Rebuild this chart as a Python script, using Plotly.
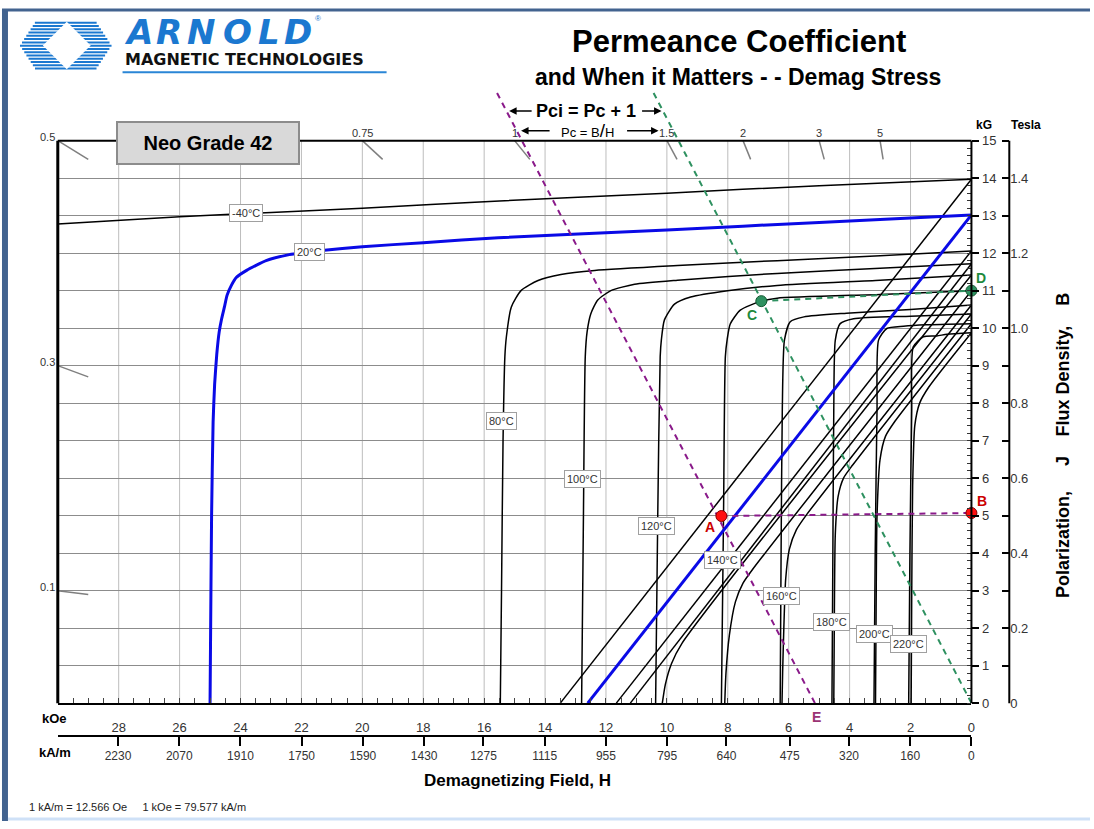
import plotly.graph_objects as go

# ---------------- values (H in kOe, J and B in kG) ----------------
# intrinsic (polarization) curves J(H)
H_J_M40 = [30, 26, 20, 15.5, 10, 5, 0]
J_M40 = [12.78, 12.97, 13.2, 13.39, 13.6, 13.8, 13.97]

H_J_20 = [0, 5, 10, 15.54, 18, 20, 21.33, 22.4, 23.16, 23.8, 24.14, 24.3, 24.44, 24.53, 24.62,
          24.7, 24.78, 24.85, 24.9, 24.95, 24.98, 25.0]
J_20 = [13.02, 12.82, 12.62, 12.41, 12.28, 12.17, 12.07, 11.96, 11.8, 11.54, 11.35, 11.14, 10.88, 10.56, 10.25,
        9.9, 9.3, 8.5, 7.5, 5.0, 2.1, 0]

H_J_80 = [0, 3, 6.38, 9.65, 12.37, 13.48, 14.23, 14.79, 15.11, 15.27, 15.32, 15.38, 15.43, 15.47]
J_80 = [12.06, 11.93, 11.8, 11.67, 11.54, 11.43, 11.27, 11.0, 10.56, 9.77, 9.24, 7.0, 3.0, 0]

H_J_100 = [0, 3, 6.38, 9.65, 11.06, 11.84, 12.27, 12.5, 12.62, 12.68, 12.74, 12.8]
J_100 = [11.72, 11.6, 11.46, 11.28, 11.17, 11.0, 10.75, 10.38, 9.9, 9.24, 5.0, 0]

H_J_120 = [0, 3, 6.38, 8.01, 9.22, 9.75, 10.08, 10.18, 10.22, 10.3, 10.37]
J_120 = [11.42, 11.28, 11.14, 11.0, 10.83, 10.64, 10.22, 9.7, 9.24, 5.0, 0]

H_J_140 = [0, 3, 6.38, 6.9, 7.59, 7.92, 8.02, 8.08, 8.14, 8.21]
J_140 = [11.0, 10.9, 10.8, 10.72, 10.48, 10.11, 9.7, 9.24, 5.0, 0]

H_J_160 = [0, 2, 4.1, 5.5, 5.95, 6.14, 6.21, 6.25, 6.28]
J_160 = [10.62, 10.5, 10.4, 10.3, 10.17, 9.68, 7.84, 4.0, 0]

H_J_180 = [0, 2, 3.87, 4.31, 4.47, 4.52, 4.55, 4.58]
J_180 = [10.38, 10.32, 10.25, 10.12, 9.68, 7.83, 4.0, 0]

H_J_200 = [0, 1.5, 2.23, 2.78, 3.05, 3.1, 3.16, 3.2]
J_200 = [10.12, 10.09, 10.05, 9.99, 9.68, 7.84, 4.0, 0]

H_J_220 = [0, 0.8, 1.14, 1.58, 1.91, 1.96, 2.02, 2.06]
J_220 = [9.88, 9.84, 9.79, 9.77, 9.5, 7.83, 4.0, 0]

# normal curves B(H)
H_B_M40 = [0, 13.5]
B_M40 = [13.97, 0]
H_B_20 = [0, 12.6]
B_20 = [13.02, 0]
H_B_80 = [0, 11.66]
B_80 = [12.06, 0]
H_B_100 = [0, 11.2]
B_100 = [11.72, 0]
H_B_120 = [0, 9.5, 9.85, 10.05, 10.15]
B_120 = [11.42, 1.6, 1.05, 0.5, 0]
H_B_140 = [0, 7.2, 7.5, 7.75, 7.95, 8.06, 8.1]
B_140 = [11.0, 3.55, 3.2, 2.7, 1.8, 0.8, 0]
H_B_160 = [0, 5.4, 5.75, 5.98, 6.1, 6.16, 6.2, 6.22]
B_160 = [10.62, 5.04, 4.62, 4.1, 3.3, 2.0, 0.8, 0]
H_B_180 = [0, 3.9, 4.2, 4.38, 4.47, 4.5, 4.52]
B_180 = [10.38, 6.35, 6.0, 5.5, 4.5, 2.5, 0]
H_B_200 = [0, 2.5, 2.82, 3.0, 3.1, 3.13, 3.15]
B_200 = [10.12, 7.53, 7.12, 6.5, 5.0, 2.5, 0]
H_B_220 = [0, 1.4, 1.7, 1.86, 1.93, 1.96, 1.98]
B_220 = [9.88, 8.43, 8.0, 7.4, 5.8, 3.0, 0]

TEMPS = ["-40°C", "20°C", "80°C", "100°C", "120°C", "140°C", "160°C", "180°C", "200°C", "220°C"]

# load-line construction
H_PC_LINE = [5.14, 15.64]      # purple: through A, meets axis at E
B_PC_LINE = [0, 16.37]
H_PCI_LINE = [0, 10.5]         # green: through origin and C
B_PCI_LINE = [0, 16.37]
H_AB = [8.21, 0]
B_AB = [4.99, 5.07]
H_CD = [6.9, 0]
B_CD = [10.72, 11.0]
RED_H = [8.21, 0]
RED_B = [4.99, 5.07]
GREEN_H = [6.9, 0]
GREEN_B = [10.72, 11.0]
E_H = 5.14

# permeance coefficient scale (B/H)
PC_LEFT = [0.5, 0.3, 0.1]
PC_TOP = [0.75, 1, 1.5, 2, 3, 5]

# axis ticks
KOE_TICKS = [28, 26, 24, 22, 20, 18, 16, 14, 12, 10, 8, 6, 4, 2, 0]
KAM_TICKS = [2230, 2070, 1910, 1750, 1590, 1430, 1275, 1115, 955, 795, 640, 475, 320, 160, 0]
KG_TICKS = list(range(16))
TESLA_TICKS = [i / 10 for i in range(16)]
TESLA_TEXT = ["0", "", "0.2", "", "0.4", "", "0.6", "", "0.8", "", "1.0", "", "1.2", "", "1.4", ""]

# ---------------- page geometry ----------------
W, HT = 1094, 829
H_MAX = 30
B_MAX = 16.8
FONT = "Liberation Sans, Arial, sans-serif"
LOGO_FONT = "DejaVu Sans, Verdana, sans-serif"


def px(x):
    return x / W


def py(y):
    return 1 - y / HT


X_DOM = [px(58), px(975)]
Y_DOM = [py(710), py(710 - B_MAX * 568 / 15)]
Y_FRAME_TOP = Y_DOM[0] + (Y_DOM[1] - Y_DOM[0]) * 15 / B_MAX

fig = go.Figure()

# vertical grid (stops at the top of the frame)
for h in KOE_TICKS[:-1]:
    fig.add_shape(type="line", xref="x", yref="y", x0=h, x1=h, y0=0, y1=15,
                  line=dict(color="#bdbdbd", width=1), layer="below")

curves = [
    (H_J_M40, J_M40, H_B_M40, B_M40),
    (H_J_20, J_20, H_B_20, B_20),
    (H_J_80, J_80, H_B_80, B_80),
    (H_J_100, J_100, H_B_100, B_100),
    (H_J_120, J_120, H_B_120, B_120),
    (H_J_140, J_140, H_B_140, B_140),
    (H_J_160, J_160, H_B_160, B_160),
    (H_J_180, J_180, H_B_180, B_180),
    (H_J_200, J_200, H_B_200, B_200),
    (H_J_220, J_220, H_B_220, B_220),
]

for name, (hj, jj, hb, bb) in zip(TEMPS, curves):
    if name == "20°C":
        continue
    for xs, ys in ((hj, jj), (hb, bb)):
        fig.add_trace(go.Scatter(
            x=xs, y=ys, mode="lines", name=name,
            line=dict(color="black", width=1.5, shape="spline", smoothing=0.6),
            hoverinfo="skip", showlegend=False,
        ))

# 20 °C in blue on top
hj, jj, hb, bb = curves[1]
for xs, ys in ((hj, jj), (hb, bb)):
    fig.add_trace(go.Scatter(
        x=xs, y=ys, mode="lines", name="20°C",
        line=dict(color="#0a0ae6", width=3, shape="spline", smoothing=0.5),
        hoverinfo="skip", showlegend=False,
    ))

# permeance scale marks
mark_x, mark_y = [], []
for pc in PC_LEFT:
    mark_x += [H_MAX, H_MAX - 1, None]
    mark_y += [pc * H_MAX, pc * (H_MAX - 1), None]
for pc in PC_TOP:
    mark_x += [15 / pc, 14.5 / pc, None]
    mark_y += [15, 14.5, None]
fig.add_trace(go.Scatter(x=mark_x, y=mark_y, mode="lines",
                         line=dict(color="#7f7f7f", width=1.5),
                         hoverinfo="skip", showlegend=False))

# dashed construction lines
PURPLE = "#8a1a8a"
GREEN = "#2e9160"
for xs, ys, col in ((H_PC_LINE, B_PC_LINE, PURPLE), (H_AB, B_AB, PURPLE),
                    (H_PCI_LINE, B_PCI_LINE, GREEN), (H_CD, B_CD, GREEN)):
    fig.add_trace(go.Scatter(x=xs, y=ys, mode="lines",
                             line=dict(color=col, width=2, dash="6px,5px"),
                             hoverinfo="skip", showlegend=False))

fig.add_trace(go.Scatter(x=RED_H, y=RED_B, mode="markers", cliponaxis=False,
                         marker=dict(size=11, color="#ff1010", line=dict(color="#8b0000", width=1)),
                         hoverinfo="skip", showlegend=False))
fig.add_trace(go.Scatter(x=GREEN_H, y=GREEN_B, mode="markers", cliponaxis=False,
                         marker=dict(size=11, color="#2e9160", line=dict(color="#145a32", width=1)),
                         hoverinfo="skip", showlegend=False))

# dummy traces so the secondary scales are drawn
fig.add_trace(go.Scatter(x=[15], y=[1], xaxis="x2", yaxis="y", mode="markers",
                         marker=dict(opacity=0), hoverinfo="skip", showlegend=False))
fig.add_trace(go.Scatter(x=[15], y=[0.1], xaxis="x", yaxis="y2", mode="markers",
                         marker=dict(opacity=0), hoverinfo="skip", showlegend=False))

# ---------------- frame and decoration shapes ----------------
frame = dict(type="line", xref="paper", yref="paper", line=dict(color="black", width=2))
fig.add_shape(frame, x0=X_DOM[0], x1=X_DOM[0], y0=Y_DOM[0], y1=Y_FRAME_TOP, line_width=3)
fig.add_shape(frame, x0=X_DOM[0], x1=X_DOM[1], y0=Y_FRAME_TOP, y1=Y_FRAME_TOP)
fig.add_shape(frame, x0=X_DOM[1], x1=X_DOM[1], y0=Y_DOM[0], y1=Y_FRAME_TOP)
fig.add_shape(frame, x0=px(1013), x1=px(1013), y0=Y_DOM[0], y1=Y_FRAME_TOP)

# slide border
fig.add_shape(type="rect", xref="paper", yref="paper", x0=px(2), x1=px(8), y0=0, y1=py(10),
              fillcolor="#42638f", line_width=0)
fig.add_shape(type="line", xref="paper", yref="paper", x0=px(2), x1=1, y0=py(10), y1=py(10),
              line=dict(color="#42638f", width=3))
fig.add_shape(type="line", xref="paper", yref="paper", x0=px(8), x1=1, y0=py(827), y1=py(827),
              line=dict(color="#cfe1f7", width=3))

# logo: striped blue block with white diamond
for i in range(15):
    yy = 23 + i * 3.3
    hw = 46 - 15 * abs(yy - 46) / 23
    fig.add_shape(type="line", xref="paper", yref="paper",
                  x0=px(66 - hw), x1=px(66 + hw), y0=py(yy), y1=py(yy),
                  line=dict(color="#1b78d0", width=2))
fig.add_shape(type="path", xref="paper", yref="paper",
              path=f"M {px(43)},{py(46)} L {px(67)},{py(22)} L {px(91)},{py(46)} L {px(67)},{py(70)} Z",
              fillcolor="white", line_width=0)
fig.add_shape(type="line", xref="paper", yref="paper", x0=px(123), x1=px(388), y0=py(73), y1=py(73),
              line=dict(color="#2a86d6", width=2))

# ---------------- text ----------------
ann = []


def note(x, y, text, size, color="#000", xanchor="center", family=FONT, **kw):
    ann.append(dict(xref="paper", yref="paper", x=px(x), y=py(y), text=text, showarrow=False,
                    xanchor=xanchor, yanchor="middle", font=dict(size=size, color=color, family=family), **kw))


for letter, cx in zip("ARNOLD", [139, 170, 202, 238, 270, 299]):
    note(cx, 32, f"<b><i>{letter}</i></b>", 34, "#1b78d0", family=LOGO_FONT)
note(319, 19, "®", 8, "#1b78d0")
note(123, 60, "<b>MAGNETIC TECHNOLOGIES</b>", 16, "#111", xanchor="left", family=LOGO_FONT)

note(742, 42, "<b>Permeance Coefficient</b>", 31)
note(741, 78, "<b>and When it Matters - - Demag Stress</b>", 23)
note(588, 112, "<b>Pci = Pc + 1</b>", 18)
note(590, 132, "Pc = B<span style='font-size:19px'>/</span>H", 13)
note(209, 144, "<b>Neo Grade 42</b>", 20, bgcolor="#d9d9d9", bordercolor="#8c8c8c",
     borderwidth=2, width=176, height=36, borderpad=2)
note(519, 788, "<b>Demagnetizing Field, H</b>", 17)
note(27, 815, "1 kA/m = 12.566 Oe\u00a0\u00a0\u00a0\u00a0 1 kOe = 79.577 kA/m", 11, "#222", xanchor="left")
note(55, 726, "<b>kOe</b>", 13)
note(55, 760, "<b>kA/m</b>", 13)
note(988, 126, "<b>kG</b>", 12)
note(1030, 126, "<b>Tesla</b>", 12)
note(1067, 368, "<b>Flux Density,\u00a0\u00a0\u00a0 B</b>", 18, textangle=-90)
note(1067, 532, "<b>Polarization,\u00a0\u00a0\u00a0\u00a0 J</b>", 18, textangle=-90)

# arrows around the Pc / Pci captions
for hx, hy, tx in ((511, 112, 535), (664, 112, 643), (523, 132, 553), (661, 132, 628)):
    ann.append(dict(xref="paper", yref="paper", x=px(hx), y=py(hy), ax=tx - hx, ay=0,
                    text="", showarrow=True, arrowhead=2, arrowsize=1, arrowwidth=1.5,
                    arrowcolor="black"))

# permeance scale labels
for pc in PC_LEFT:
    ann.append(dict(xref="x", yref="y", x=H_MAX, y=pc * H_MAX, text=str(pc), showarrow=False,
                    xanchor="right", yanchor="middle", yshift=4, xshift=-1,
                    font=dict(size=11, color="#333", family=FONT)))
for pc in PC_TOP:
    ann.append(dict(xref="x", yref="y", x=15 / pc, y=15, text=str(pc), showarrow=False,
                    xanchor="center", yanchor="bottom", yshift=0,
                    font=dict(size=11, color="#333", family=FONT)))

# temperature tags (centre of each tag, in H / B)
TAG_POS = [(23.82, 13.07), (21.75, 12.04), (15.42, 7.52), (12.76, 5.97), (10.34, 4.72),
           (8.18, 3.83), (6.25, 2.85), (4.61, 2.16), (3.17, 1.85), (2.06, 1.58)]
for name, (tx, ty) in zip(TEMPS, TAG_POS):
    ann.append(dict(xref="x", yref="y", x=tx, y=ty, text=name, showarrow=False,
                    bgcolor="white", bordercolor="#a0a0a0", borderwidth=1, borderpad=2,
                    font=dict(size=11, color="#333", family=FONT)))

# point letters
for letter, hx, by, dx, dy, col in (("A", RED_H[0], RED_B[0], -11, -11, "#cc0000"),
                                    ("B", RED_H[1], RED_B[1], 11, 12, "#cc0000"),
                                    ("C", GREEN_H[0], GREEN_B[0], -9, -14, "#1e8a3c"),
                                    ("D", GREEN_H[1], GREEN_B[1], 10, 13, "#1e8a3c"),
                                    ("E", E_H, 0, 2, -14, "#9b3374")):
    ann.append(dict(xref="x", yref="y", x=hx, y=by, text=f"<b>{letter}</b>", showarrow=False,
                    xshift=dx, yshift=dy, font=dict(size=14, color=col, family=FONT)))

fig.update_layout(
    width=W, height=HT, autosize=False,
    margin=dict(l=0, r=0, t=0, b=0),
    paper_bgcolor="white", plot_bgcolor="white",
    showlegend=False,
    font=dict(family=FONT, color="#222"),
    annotations=ann,
    xaxis=dict(
        domain=X_DOM, range=[H_MAX, 0],
        tickvals=KOE_TICKS, ticktext=[str(v) for v in KOE_TICKS],
        ticks="", ticklabelstandoff=11,
        tickfont=dict(size=13, color="#333"),
        showgrid=False, zeroline=False,
        showline=True, linecolor="black", linewidth=2,
        minor=dict(ticks="inside", dtick=0.5, ticklen=5, tickcolor="#444", tickwidth=1, showgrid=False),
    ),
    xaxis2=dict(
        overlaying="x", anchor="free", position=py(743), side="bottom",
        domain=X_DOM, range=[H_MAX, 0],
        tickvals=[k / 79.577 for k in KAM_TICKS], ticktext=[str(k) for k in KAM_TICKS],
        ticks="outside", ticklen=9, tickwidth=2, tickcolor="black",
        tickfont=dict(size=12, color="#333"),
        showline=True, linecolor="black", linewidth=2,
        showgrid=False, zeroline=False,
    ),
    yaxis=dict(
        domain=Y_DOM, range=[0, B_MAX], side="right", anchor="x",
        tickvals=KG_TICKS, ticktext=[str(v) for v in KG_TICKS],
        ticks="outside", ticklen=7, tickwidth=1.5, tickcolor="black",
        tickfont=dict(size=13, color="#333"),
        showgrid=True, gridcolor="#8c8c8c", gridwidth=1,
        zeroline=False, showline=False,
        minor=dict(ticks="inside", tickvals=[i / 5 for i in range(76)], ticklen=4,
                   tickcolor="#333", tickwidth=1, showgrid=False),
    ),
    yaxis2=dict(
        overlaying="y", anchor="free", position=px(1013), side="right",
        range=[0, B_MAX / 10],
        tickvals=TESLA_TICKS, ticktext=TESLA_TEXT,
        ticks="inside", ticklen=7, tickwidth=2, tickcolor="black",
        tickfont=dict(size=13, color="#333"),
        showgrid=False, zeroline=False, showline=False,
    ),
)

# the page body has an 8px default margin; drop it so the figure sits at the window origin
fig.write_html(
    "out.html",
    config={"displayModeBar": False, "responsive": False},
    post_script="document.body.style.margin='0';document.body.style.overflow='hidden';",
)
